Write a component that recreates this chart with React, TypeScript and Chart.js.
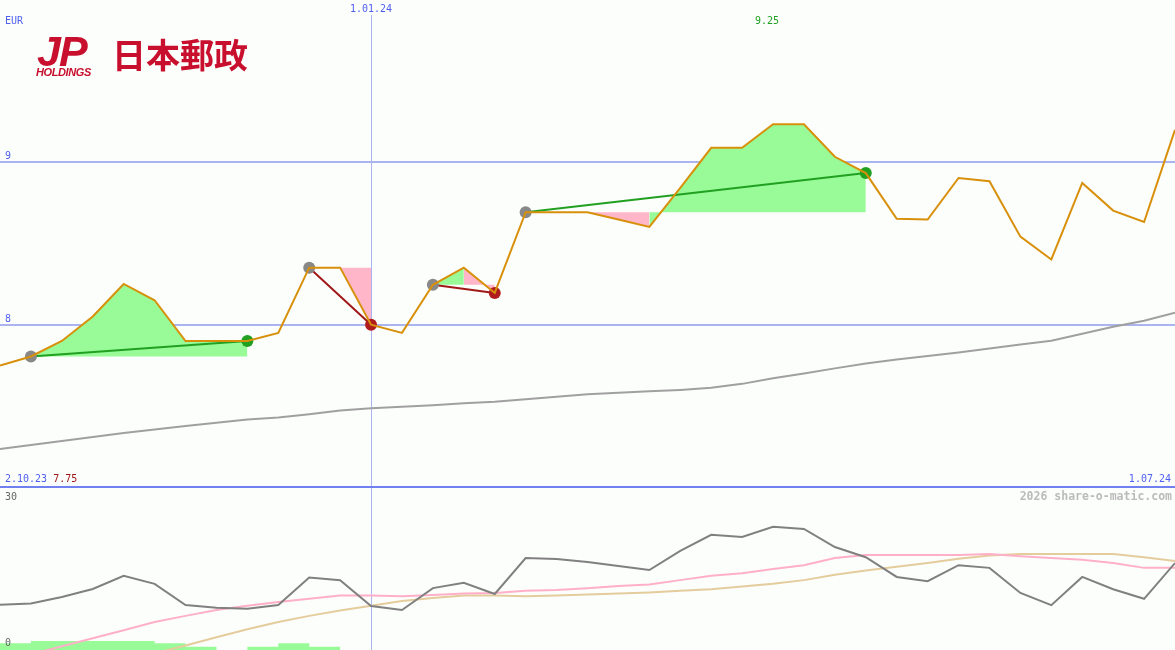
import { useEffect, useRef } from "react";
import { Chart, registerables } from "chart.js";

Chart.register(...registerables);

// ---- data ----
const weeks = [
  "9.10.23", "16.10.23", "23.10.23", "30.10.23", "6.11.23", "13.11.23", "20.11.23", "27.11.23",
  "4.12.23", "11.12.23", "18.12.23", "25.12.23", "1.01.24", "8.01.24", "15.01.24", "22.01.24",
  "29.01.24", "5.02.24", "12.02.24", "19.02.24", "26.02.24", "4.03.24", "11.03.24", "18.03.24",
  "25.03.24", "1.04.24", "8.04.24", "15.04.24", "22.04.24", "29.04.24", "6.05.24", "13.05.24",
  "20.05.24", "27.05.24", "3.06.24", "10.06.24", "17.06.24", "24.06.24", "1.07.24",
];

const price = [
  7.75, 7.805, 7.9, 8.05, 8.25, 8.15, 7.9, 7.9, 7.9, 7.95, 8.35, 8.35, 8.0, 7.95, 8.245, 8.35,
  8.195, 8.69, 8.69, 8.69, 8.645, 8.6, 8.84, 9.085, 9.085, 9.23, 9.23, 9.03, 8.93, 8.65, 8.645,
  8.9, 8.88, 8.54, 8.4, 8.87, 8.7, 8.63, 9.195,
];

const movingAvg = [
  7.237, 7.262, 7.287, 7.311, 7.335, 7.357, 7.378, 7.399, 7.418, 7.43, 7.451, 7.473, 7.488,
  7.497, 7.506, 7.518, 7.527, 7.543, 7.558, 7.573, 7.582, 7.591, 7.6, 7.613, 7.637, 7.671, 7.7,
  7.732, 7.762, 7.787, 7.808, 7.829, 7.854, 7.878, 7.902, 7.945, 7.988, 8.024, 8.073,
];

// trades: start index, end index, result colour key
const tradeStart = [1, 10, 14, 17];
const tradeEnd = [8, 12, 16, 28];
const tradeWin = [true, false, false, true];

// coloured areas: from index, to index, baseline (trade start index), gain?
const areaFrom = [1, 10, 14, 15, 19, 21];
const areaTo = [8, 12, 15, 16, 21, 28];
const areaBase = [1, 10, 14, 14, 17, 17];
const areaGain = [true, false, true, false, false, true];

const priceGrid = [8, 9];
const markerLabel = "1.01.24";
const currency = "EUR";
const maxLabel = "9.25";
const minLabel = "7.75";
const startLabel = "2.10.23";
const endLabel = "1.07.24";

// lower panel
const oscillator = [
  8.49, 8.72, 9.94, 11.44, 13.9, 12.4, 8.44, 7.94, 7.75, 8.44, 13.6, 13.1, 8.25, 7.5, 11.6, 12.6,
  10.5, 17.25, 17.06, 16.5, 15.75, 15.0, 18.6, 21.6, 21.2, 23.1, 22.7, 19.3, 17.4, 13.7, 12.9,
  15.9, 15.4, 10.7, 8.4, 13.7, 11.4, 9.6, 16.3,
];
const oscFast = [
  null, -0.85, 0.7, 2.2, 3.7, 5.25, 6.4, 7.5, 8.3, 9.0, 9.6, 10.2, 10.2, 10.1, 10.3, 10.6, 10.7,
  11.1, 11.25, 11.6, 12.0, 12.3, 13.1, 13.9, 14.4, 15.2, 15.9, 17.25, 17.8, 17.8, 17.8, 17.8,
  18.0, 17.6, 17.25, 16.9, 16.3, 15.4, 15.4,
];
const oscSlow = [
  null, null, null, null, null, -0.65, 0.85, 2.4, 3.9, 5.25, 6.4, 7.4, 8.3, 9.2, 9.75, 10.2, 10.2,
  10.1, 10.2, 10.4, 10.6, 10.8, 11.1, 11.4, 11.9, 12.4, 13.1, 14.1, 14.9, 15.6, 16.3, 17.1, 17.7,
  18.0, 18.0, 18.0, 18.0, 17.4, 16.7,
];
const oscBars = [
  1.25, 1.7, 1.7, 1.7, 1.7, 1.25, 0.62, 0, 0.62, 1.25, 0.62, 0, 0, 0, 0, 0, 0, 0, 0, 0, 0, 0, 0,
  0, 0, 0, 0, 0, 0, 0, 0, 0, 0, 0, 0, 0, 0, 0, 0,
];
const oscGrid = [30, 0];
const credit = "2026 share-o-matic.com";

// ---- styles ----
const BG = "#fcfefc";
const GRID = "#aab4f0";
const LABEL_BLUE = "#4f5ff0";
const FONT = '10px "DejaVu Sans Mono", monospace';
const markerIndex = weeks.indexOf(markerLabel);

const W = 1175;
const TOP_H = 486;
const BOT_H = 162;

function onlyRange(src: number[], a: number, b: number) {
  return src.map((v, i) => (i >= a && i <= b ? v : null));
}

const topDecor = {
  id: "topDecor",
  beforeDatasetsDraw(chart: any) {
    const { ctx, scales } = chart;
    const x = scales.x;
    const y = scales.y;
    ctx.save();
    ctx.strokeStyle = GRID;
    ctx.lineWidth = 2;
    for (const v of priceGrid) {
      const py = Math.round(y.getPixelForValue(v));
      ctx.beginPath();
      ctx.moveTo(0, py);
      ctx.lineTo(chart.width, py);
      ctx.stroke();
    }
    ctx.lineWidth = 1;
    const vx = Math.round(x.getPixelForValue(markerIndex)) + 0.5;
    ctx.beginPath();
    ctx.moveTo(vx, 15);
    ctx.lineTo(vx, chart.height);
    ctx.stroke();
    ctx.restore();
  },
  afterDraw(chart: any) {
    const { ctx, scales } = chart;
    const x = scales.x;
    const y = scales.y;
    ctx.save();
    ctx.font = FONT;
    ctx.textBaseline = "alphabetic";
    ctx.fillStyle = LABEL_BLUE;
    ctx.textAlign = "left";
    ctx.fillText(currency, 5, 24);
    for (const v of priceGrid) {
      const py = Math.round(y.getPixelForValue(v));
      ctx.fillText(String(v), 5, py - 3);
    }
    ctx.textAlign = "center";
    ctx.fillText(markerLabel, x.getPixelForValue(markerIndex), 12);
    ctx.textAlign = "left";
    ctx.fillText(startLabel, 5, 482);
    const sw = ctx.measureText(startLabel + " ").width;
    ctx.fillStyle = "#a01818";
    ctx.fillText(minLabel, 5 + sw, 482);
    ctx.fillStyle = LABEL_BLUE;
    ctx.textAlign = "right";
    ctx.fillText(endLabel, chart.width - 4, 482);
    ctx.fillStyle = "#20a020";
    ctx.textAlign = "center";
    ctx.fillText(maxLabel, x.getPixelForValue(25) - 6, 24);
    ctx.restore();
  },
};

const botDecor = {
  id: "botDecor",
  beforeDatasetsDraw(chart: any) {
    const { ctx, scales } = chart;
    const x = scales.x;
    ctx.save();
    ctx.strokeStyle = GRID;
    ctx.lineWidth = 1;
    const vx = Math.round(x.getPixelForValue(markerIndex)) + 0.5;
    ctx.beginPath();
    ctx.moveTo(vx, 0);
    ctx.lineTo(vx, chart.height);
    ctx.stroke();
    ctx.restore();
  },
  afterDraw(chart: any) {
    const { ctx } = chart;
    ctx.save();
    ctx.font = FONT;
    ctx.fillStyle = "#666";
    ctx.textAlign = "left";
    ctx.fillText(String(oscGrid[0]), 5, 12);
    ctx.fillText(String(oscGrid[1]), 5, 158);
    ctx.font = 'bold 11.5px "DejaVu Sans Mono", monospace';
    ctx.fillStyle = "#bbbbbb";
    ctx.textAlign = "right";
    ctx.fillText(credit, chart.width - 3, 12);
    ctx.restore();
  },
};

export default function App() {
  const topRef = useRef<HTMLCanvasElement | null>(null);
  const botRef = useRef<HTMLCanvasElement | null>(null);

  useEffect(() => {
    document.body.style.margin = "0";
    document.body.style.background = BG;

    const areaSets = areaFrom.map((a, k) => ({
      type: "line" as const,
      data: onlyRange(price, a, areaTo[k]),
      borderWidth: 0,
      pointRadius: 0,
      backgroundColor: areaGain[k] ? "#98fb98" : "#ffb6c8",
      fill: { value: price[areaBase[k]] },
      order: 5,
      tension: 0,
    }));

    const tradeSets = tradeStart.map((s, k) => {
      const e = tradeEnd[k];
      const col = tradeWin[k] ? "#22a022" : "#a01818";
      return {
        type: "line" as const,
        data: price.map((v, i) => (i === s || i === e ? v : null)),
        borderColor: col,
        borderWidth: 2,
        spanGaps: true,
        pointRadius: 6,
        pointBorderWidth: 0,
        pointBackgroundColor: (c: any) => (c.dataIndex === s ? "#888888" : tradeWin[k] ? "#22a022" : "#b01c1c"),
        fill: false,
        order: 2,
      };
    });

    const top = new Chart(topRef.current as HTMLCanvasElement, {
      type: "line",
      data: {
        labels: weeks,
        datasets: [
          {
            data: price,
            borderColor: "#d8900a",
            borderWidth: 2,
            pointRadius: 0,
            fill: false,
            order: 0,
          },
          ...tradeSets,
          {
            data: movingAvg,
            borderColor: "#a0a0a0",
            borderWidth: 2,
            pointRadius: 0,
            fill: false,
            order: 4,
          },
          ...areaSets,
        ] as any,
      },
      options: {
        animation: false,
        responsive: false,
        devicePixelRatio: 1,
        events: [],
        layout: { padding: 0, autoPadding: false },
        plugins: { legend: { display: false }, tooltip: { enabled: false } },
        scales: {
          x: { type: "category", display: false, offset: false },
          y: { type: "linear", display: false, min: 7.0104, max: 9.992 },
        },
      },
      plugins: [topDecor],
    });

    const bot = new Chart(botRef.current as HTMLCanvasElement, {
      type: "line",
      data: {
        labels: weeks,
        datasets: [
          {
            data: oscillator,
            borderColor: "#808080",
            borderWidth: 2,
            pointRadius: 0,
            fill: false,
            order: 0,
          },
          {
            data: oscFast,
            borderColor: "#ffb0c8",
            borderWidth: 2,
            pointRadius: 0,
            fill: false,
            order: 1,
          },
          {
            data: oscSlow,
            borderColor: "#e4cc9c",
            borderWidth: 2,
            pointRadius: 0,
            fill: false,
            order: 2,
          },
          {
            data: oscBars,
            borderWidth: 0,
            borderColor: "rgba(0,0,0,0)",
            backgroundColor: "#98fb98",
            stepped: "before",
            pointRadius: 0,
            fill: "origin",
            order: 3,
          },
        ] as any,
      },
      options: {
        animation: false,
        responsive: false,
        devicePixelRatio: 1,
        events: [],
        layout: { padding: { top: 2, left: 0, right: 0, bottom: 0 }, autoPadding: false },
        plugins: { legend: { display: false }, tooltip: { enabled: false } },
        scales: {
          x: { type: "category", display: false, offset: false },
          y: { type: "linear", display: false, min: 0, max: 30 },
        },
      },
      plugins: [botDecor],
    });

    return () => {
      top.destroy();
      bot.destroy();
    };
  }, []);

  const red = "#c8102e";
  return (
    <div style={{ position: "fixed", left: 0, top: 0, width: W, height: 650, background: BG, overflow: "hidden" }}>
      <canvas ref={topRef} width={W} height={TOP_H} style={{ position: "absolute", left: 0, top: 0, width: W, height: TOP_H }} />
      <div style={{ position: "absolute", left: 0, top: TOP_H, width: W, height: 2, background: "#7080f0" }} />
      <canvas ref={botRef} width={W} height={BOT_H} style={{ position: "absolute", left: 0, top: TOP_H + 2, width: W, height: BOT_H }} />
      <div style={{ position: "absolute", left: 37, top: 30, color: red, fontFamily: '"Liberation Sans", Arial, sans-serif', fontStyle: "italic", fontWeight: 900, fontSize: 43, lineHeight: 1, letterSpacing: -2 }}>JP</div>
      <div style={{ position: "absolute", left: 36, top: 67, color: red, fontFamily: '"Liberation Sans", Arial, sans-serif', fontStyle: "italic", fontWeight: 700, fontSize: 11, lineHeight: 1, letterSpacing: -0.4 }}>HOLDINGS</div>
      <div style={{ position: "absolute", left: 112, top: 37, color: red, fontFamily: '"Noto Sans CJK JP", sans-serif', fontWeight: 700, fontSize: 34, lineHeight: 1, letterSpacing: 0 }}>日本郵政</div>
    </div>
  );
}
